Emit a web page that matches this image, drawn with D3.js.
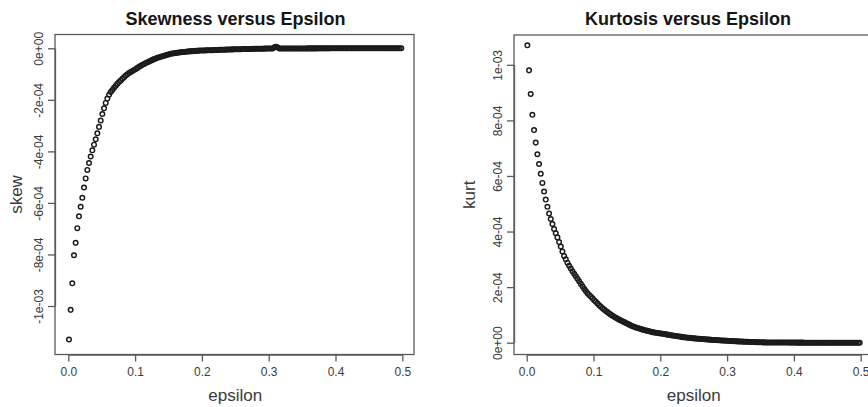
<!DOCTYPE html>
<html>
<head>
<meta charset="utf-8">
<script src="https://cdn.jsdelivr.net/npm/d3@7"></script>
<style>
  body { margin: 0; background: #fff; }
  svg { display: block; font-family: "Liberation Sans", Arial, sans-serif; }
</style>
</head>
<body>
<svg id="chart" width="868" height="407"></svg>
<script>
// epsilon values (shared by both panels)
const epsilon = [
  0.001, 0.0035, 0.006, 0.0085, 0.011, 0.0135, 0.016, 0.0185, 0.021, 0.0235,
  0.026, 0.0285, 0.031, 0.0335, 0.036, 0.0385, 0.041, 0.0435, 0.046, 0.0485,
  0.051, 0.0535, 0.056, 0.0585, 0.061, 0.0635, 0.066, 0.0685, 0.071, 0.0735,
  0.076, 0.0785, 0.081, 0.0835, 0.086, 0.0885, 0.091, 0.0935, 0.096, 0.0985,
  0.101, 0.1035, 0.106, 0.1085, 0.111, 0.1135, 0.116, 0.1185, 0.121, 0.1235,
  0.126, 0.1285, 0.131, 0.1335, 0.136, 0.1385, 0.141, 0.1435, 0.146, 0.1485,
  0.151, 0.1535, 0.156, 0.1585, 0.161, 0.1635, 0.166, 0.1685, 0.171, 0.1735,
  0.176, 0.1785, 0.181, 0.1835, 0.186, 0.1885, 0.191, 0.1935, 0.196, 0.1985,
  0.201, 0.2035, 0.206, 0.2085, 0.211, 0.2135, 0.216, 0.2185, 0.221, 0.2235,
  0.226, 0.2285, 0.231, 0.2335, 0.236, 0.2385, 0.241, 0.2435, 0.246, 0.2485,
  0.251, 0.2535, 0.256, 0.2585, 0.261, 0.2635, 0.266, 0.2685, 0.271, 0.2735,
  0.276, 0.2785, 0.281, 0.2835, 0.286, 0.2885, 0.291, 0.2935, 0.296, 0.2985,
  0.301, 0.3035, 0.306, 0.3085, 0.311, 0.3135, 0.316, 0.3185, 0.321, 0.3235,
  0.326, 0.3285, 0.331, 0.3335, 0.336, 0.3385, 0.341, 0.3435, 0.346, 0.3485,
  0.351, 0.3535, 0.356, 0.3585, 0.361, 0.3635, 0.366, 0.3685, 0.371, 0.3735,
  0.376, 0.3785, 0.381, 0.3835, 0.386, 0.3885, 0.391, 0.3935, 0.396, 0.3985,
  0.401, 0.4035, 0.406, 0.4085, 0.411, 0.4135, 0.416, 0.4185, 0.421, 0.4235,
  0.426, 0.4285, 0.431, 0.4335, 0.436, 0.4385, 0.441, 0.4435, 0.446, 0.4485,
  0.451, 0.4535, 0.456, 0.4585, 0.461, 0.4635, 0.466, 0.4685, 0.471, 0.4735,
  0.476, 0.4785, 0.481, 0.4835, 0.486, 0.4885, 0.491, 0.4935, 0.496, 0.4985
];

// skewness, in units of 1e-4
const skew = [
  -11.30, -10.15, -9.12, -8.03, -7.55, -6.98, -6.52, -6.15, -5.80, -5.40,
  -5.05, -4.72, -4.45, -4.20, -3.96, -3.74, -3.53, -3.30, -3.05, -2.80,
  -2.55, -2.33, -2.12, -1.95, -1.80, -1.70, -1.62, -1.53, -1.45, -1.38,
  -1.31, -1.25, -1.18, -1.12, -1.06, -1.01, -0.96, -0.92, -0.88, -0.84,
  -0.80, -0.76, -0.72, -0.68, -0.64, -0.61, -0.57, -0.54, -0.51, -0.48,
  -0.45, -0.42, -0.40, -0.37, -0.35, -0.33, -0.31, -0.29, -0.27, -0.25,
  -0.23, -0.21, -0.20, -0.19, -0.18, -0.17, -0.16, -0.15, -0.145, -0.14,
  -0.13, -0.125, -0.12, -0.115, -0.11, -0.105, -0.10, -0.095, -0.09, -0.088,
  -0.085, -0.083, -0.080, -0.078, -0.075, -0.073, -0.071, -0.068, -0.066, -0.063,
  -0.061, -0.059, -0.056, -0.054, -0.052, -0.049, -0.047, -0.045, -0.042, -0.040,
  -0.038, -0.036, -0.035, -0.033, -0.031, -0.030, -0.028, -0.027, -0.025, -0.024,
  -0.022, -0.021, -0.019, -0.018, -0.016, -0.015, -0.014, -0.013, -0.012, -0.011,
  -0.010, -0.010, -0.009, 0.040, 0.060, 0.030, -0.008, -0.008, -0.007, -0.007,
  -0.007, -0.006, -0.006, -0.006, -0.005, -0.005, -0.005, -0.005, -0.004, -0.004,
  -0.004, -0.004, -0.004, -0.003, -0.003, -0.003, -0.003, -0.003, -0.003, -0.002,
  -0.002, -0.002, -0.002, -0.002, -0.002, -0.002, -0.002, -0.001, -0.001, -0.001,
  -0.001, -0.001, -0.001, -0.001, -0.001, -0.001, -0.001, -0.001, -0.001, -0.001,
  -0.001, 0.000, -0.001, 0.000, 0.000, -0.001, 0.000, 0.000, 0.000, 0.000,
  0.000, 0.000, 0.000, 0.000, 0.000, 0.000, 0.000, 0.000, 0.000, 0.000,
  0.000, 0.000, 0.000, 0.000, 0.000, 0.000, 0.000, 0.000, 0.000, 0.000
];

// kurtosis, in units of 1e-4
const kurt = [
  10.70, 9.80, 8.95, 8.20, 7.65, 7.20, 6.78, 6.43, 6.08, 5.75,
  5.44, 5.15, 4.89, 4.65, 4.45, 4.27, 4.09, 3.94, 3.79, 3.62,
  3.46, 3.28, 3.12, 3.00, 2.88, 2.77, 2.67, 2.57, 2.48, 2.39,
  2.30, 2.21, 2.12, 2.03, 1.94, 1.86, 1.78, 1.72, 1.66, 1.60,
  1.53, 1.47, 1.41, 1.35, 1.29, 1.24, 1.19, 1.14, 1.10, 1.05,
  1.01, 0.97, 0.93, 0.90, 0.86, 0.83, 0.80, 0.77, 0.74, 0.71,
  0.68, 0.65, 0.62, 0.59, 0.57, 0.55, 0.53, 0.51, 0.49, 0.47,
  0.455, 0.44, 0.425, 0.41, 0.395, 0.38, 0.37, 0.36, 0.35, 0.34,
  0.33, 0.32, 0.31, 0.30, 0.29, 0.28, 0.27, 0.26, 0.25, 0.24,
  0.23, 0.22, 0.21, 0.20, 0.195, 0.185, 0.18, 0.175, 0.17, 0.16,
  0.155, 0.15, 0.145, 0.14, 0.135, 0.13, 0.125, 0.12, 0.115, 0.11,
  0.105, 0.10, 0.10, 0.095, 0.09, 0.085, 0.08, 0.078, 0.075, 0.07,
  0.067, 0.063, 0.06, 0.057, 0.053, 0.05, 0.047, 0.044, 0.041, 0.038,
  0.035, 0.033, 0.030, 0.028, 0.026, 0.024, 0.022, 0.020, 0.018, 0.016,
  0.014, 0.012, 0.011, 0.010, 0.009, 0.008, 0.008, 0.007, 0.007, 0.006,
  0.006, 0.005, 0.005, 0.005, 0.004, 0.004, 0.004, 0.003, 0.003, 0.003,
  0.003, 0.002, 0.002, 0.002, 0.002, 0.002, 0.001, 0.001, 0.001, 0.001,
  0.001, 0.001, 0.001, 0.001, 0.001, 0.001, 0.000, 0.000, 0.000, 0.000,
  0.000, 0.000, 0.000, 0.000, 0.000, 0.000, 0.000, 0.000, 0.000, 0.000,
  0.000, 0.000, 0.000, 0.000, 0.000, 0.000, 0.000, 0.000, 0.000, 0.000
];

const xTicks = [0, 0.1, 0.2, 0.3, 0.4, 0.5];
const xTickLabels = ["0.0", "0.1", "0.2", "0.3", "0.4", "0.5"];
const skewTicks = [0, -2e-4, -4e-4, -6e-4, -8e-4, -1e-3];
const skewTickLabels = ["0e+00", "-2e-04", "-4e-04", "-6e-04", "-8e-04", "-1e-03"];
const kurtTicks = [0, 2e-4, 4e-4, 6e-4, 8e-4, 1e-3];
const kurtTickLabels = ["0e+00", "2e-04", "4e-04", "6e-04", "8e-04", "1e-03"];

const svg = d3.select("#chart");
const boxColor = "#5a5a5a";
const textColor = "#3a3a3a";

function drawPanel(opts) {
  const { box, xRange, yDomain, yRange, values, yTicks, yTickLabels } = opts;

  const x = d3.scaleLinear().domain([0, 0.5]).range(xRange);
  const y = d3.scaleLinear().domain(yDomain).range(yRange);

  const g = svg.append("g");

  // plot frame
  g.append("rect")
    .attr("x", box.left)
    .attr("y", box.top)
    .attr("width", box.right - box.left)
    .attr("height", box.bottom - box.top)
    .attr("fill", "none")
    .attr("stroke", boxColor)
    .attr("stroke-width", 1.3);

  // x axis
  const xAxis = g.append("g")
    .attr("transform", `translate(0,${box.bottom})`)
    .call(d3.axisBottom(x)
      .tickValues(xTicks)
      .tickFormat((d, i) => xTickLabels[i])
      .tickSize(7)
      .tickSizeOuter(0));
  xAxis.select(".domain").attr("stroke", boxColor).attr("stroke-width", 1.3);
  xAxis.selectAll(".tick line").attr("stroke", boxColor).attr("stroke-width", 1.3);
  xAxis.selectAll(".tick text")
    .attr("y", 21.5)
    .attr("dy", 0)
    .attr("fill", textColor)
    .style("font-size", "12px");

  // y axis, labels rotated like R's default
  const yAxis = g.append("g")
    .attr("transform", `translate(${box.left},0)`)
    .call(d3.axisLeft(y)
      .tickValues(yTicks)
      .tickFormat((d, i) => yTickLabels[i])
      .tickSize(7)
      .tickSizeOuter(0));
  yAxis.select(".domain").attr("stroke", boxColor).attr("stroke-width", 1.3);
  yAxis.selectAll(".tick line").attr("stroke", boxColor).attr("stroke-width", 1.3);
  yAxis.selectAll(".tick text")
    .attr("x", 0)
    .attr("y", -12)
    .attr("dy", 0)
    .attr("transform", "rotate(-90)")
    .attr("text-anchor", "middle")
    .attr("fill", textColor)
    .style("font-size", "12px");

  // points
  g.append("g")
    .selectAll("circle")
    .data(values)
    .enter()
    .append("circle")
    .attr("cx", (d, i) => x(epsilon[i]))
    .attr("cy", (d) => y(d * 1e-4))
    .attr("r", 2.3)
    .attr("fill", "none")
    .attr("stroke", "#1a1a1a")
    .attr("stroke-width", 1.45);

  // titles
  g.append("text")
    .attr("x", opts.titleX)
    .attr("y", 25)
    .attr("text-anchor", "middle")
    .style("font-size", "18px")
    .style("font-weight", "bold")
    .attr("fill", "#151515")
    .text(opts.title);

  g.append("text")
    .attr("x", (xRange[0] + xRange[1]) / 2)
    .attr("y", 400.5)
    .attr("text-anchor", "middle")
    .style("font-size", "17px")
    .attr("fill", textColor)
    .text("epsilon");

  g.append("text")
    .attr("transform", `translate(${opts.yLabelX},${(box.top + box.bottom) / 2}) rotate(-90)`)
    .attr("text-anchor", "middle")
    .style("font-size", "17px")
    .attr("fill", textColor)
    .text(opts.yLabel);
}

drawPanel({
  box: { left: 55, right: 414, top: 34.5, bottom: 354.5 },
  xRange: [68.3, 402.3],
  yDomain: [-1e-3, 0],
  yRange: [306, 48.3],
  values: skew,
  yTicks: skewTicks,
  yTickLabels: skewTickLabels,
  title: "Skewness versus Epsilon",
  titleX: 235.5,
  yLabel: "skew",
  yLabelX: 22,
});

drawPanel({
  box: { left: 514, right: 874, top: 35, bottom: 354.5 },
  xRange: [526.7, 860.7],
  yDomain: [0, 1e-3],
  yRange: [342.7, 64.8],
  values: kurt,
  yTicks: kurtTicks,
  yTickLabels: kurtTickLabels,
  title: "Kurtosis versus Epsilon",
  titleX: 688,
  yLabel: "kurt",
  yLabelX: 475,
});
</script>
</body>
</html>
